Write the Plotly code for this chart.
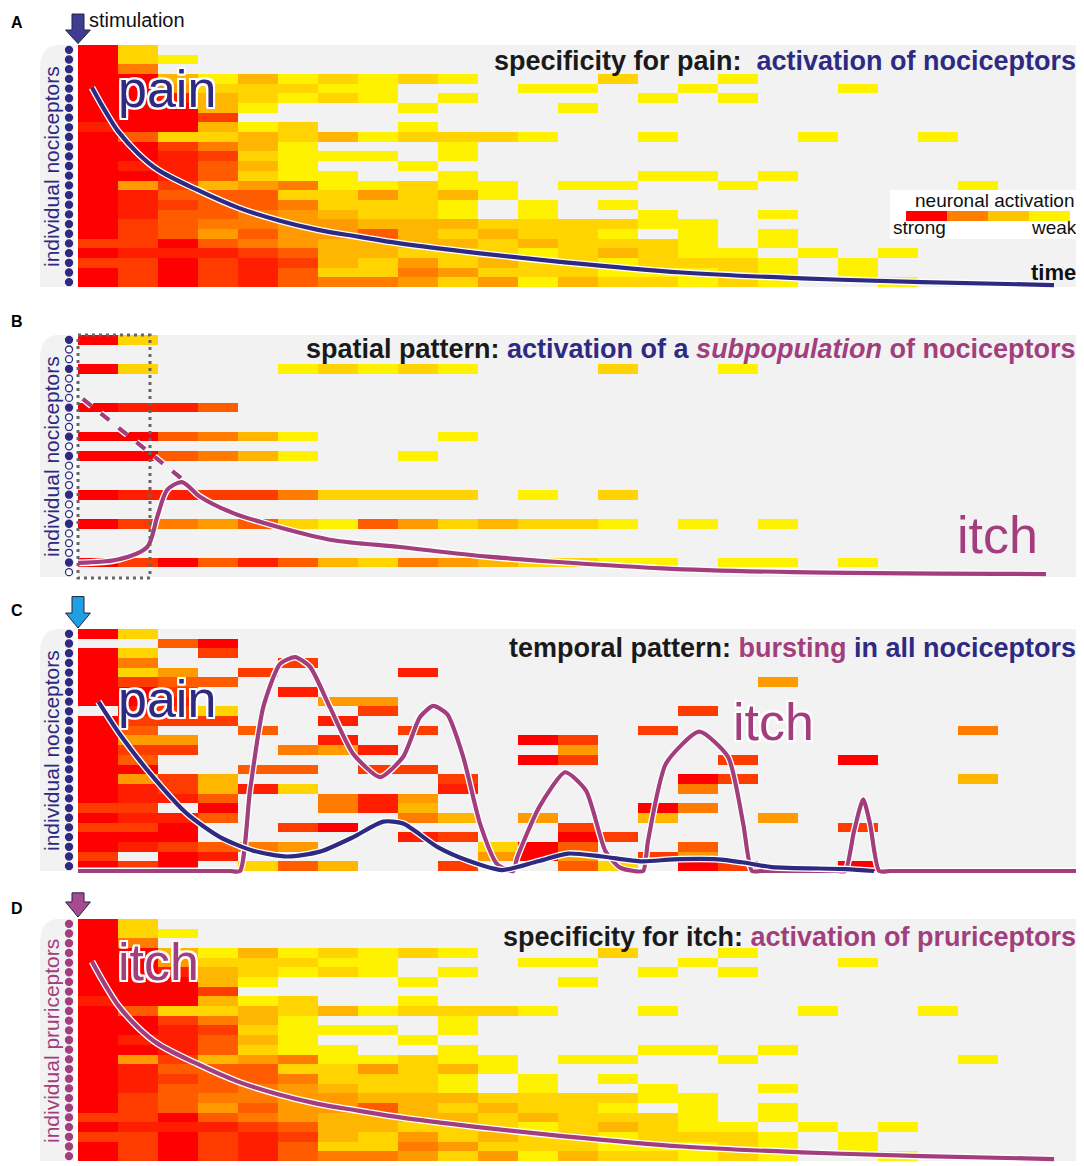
import plotly.graph_objects as go

# the page adds an 8 px body margin, so the figure is drawn 8 px in from the corner
OFF = 8
W, H = 1084 - OFF, 1166 - OFF
ROW_PX = 9.68
N = 25

# activation level per cell: 0 = silent, 1 = weak (yellow) ... 9 = strong (red)
level_colors = ["#FFF200", "#FFD400", "#FFB600", "#FF9A00", "#FF7C00",
                "#FF5C00", "#FF3C00", "#FF1E00", "#FF0000"]

# panels A and D: specific activation (same raster)
specific = [
    [9,2,0,0,0,0,0,0,0,0,0,0,0,0,0,0,0,0,0,0,0,0,0,0,0],
    [9,2,1,0,0,0,0,0,0,0,0,0,0,0,0,0,0,0,0,0,0,0,0,0,0],
    [9,5,0,0,0,0,0,0,0,0,0,0,0,0,0,0,0,0,0,0,0,0,0,0,0],
    [9,9,3,1,3,1,2,1,2,1,0,0,0,2,0,0,1,0,0,0,0,0,0,0,0],
    [9,9,4,2,2,2,1,1,0,0,0,1,1,0,0,1,0,0,0,1,0,0,0,0,0],
    [9,9,8,3,2,1,2,1,0,1,0,0,0,0,1,0,1,0,0,0,0,0,0,0,0],
    [9,9,9,3,1,0,0,0,1,0,0,0,1,0,0,0,0,0,0,0,0,0,0,0,0],
    [9,9,9,7,0,0,0,0,0,0,0,0,0,0,0,0,0,0,0,0,0,0,0,0,0],
    [8,9,9,3,1,2,0,0,1,0,0,0,0,0,0,0,0,0,0,0,0,0,0,0,0],
    [9,6,2,2,3,2,3,1,2,2,2,1,0,0,1,0,0,0,1,0,0,1,0,0,0],
    [9,9,7,5,3,1,0,0,0,1,0,0,0,0,0,0,0,0,0,0,0,0,0,0,0],
    [9,9,8,7,2,1,1,1,0,1,0,0,0,0,0,0,0,0,0,0,0,0,0,0,0],
    [9,8,8,6,3,1,0,0,1,0,0,0,0,0,0,0,0,0,0,0,0,0,0,0,0],
    [9,9,8,6,2,1,1,0,0,1,0,0,0,0,1,1,0,1,0,0,0,0,0,0,0],
    [9,4,7,3,4,5,1,1,2,1,1,0,1,1,0,0,1,0,0,0,0,0,1,0,0],
    [9,8,6,6,6,2,2,4,2,3,1,0,0,0,0,0,0,0,0,0,0,0,0,0,0],
    [9,8,7,6,6,5,2,2,2,1,0,1,0,1,0,0,0,0,0,0,0,0,0,0,0],
    [9,8,6,6,5,4,3,2,2,1,0,1,0,0,1,0,0,1,0,0,0,0,0,0,0],
    [9,7,6,5,5,4,4,3,3,3,2,2,2,2,1,1,0,0,0,0,0,0,0,0,0],
    [9,7,6,4,6,4,4,6,3,2,3,2,2,1,0,1,0,1,0,0,0,0,0,0,0],
    [7,7,9,6,5,4,3,3,3,3,2,3,2,2,2,1,0,1,0,0,0,0,0,0,0],
    [9,8,8,8,7,6,3,3,2,2,2,1,2,3,2,1,1,0,1,0,1,0,0,0,0],
    [7,7,9,7,8,7,3,2,4,2,3,2,2,1,2,2,2,1,0,1,0,0,0,0,0],
    [9,7,9,7,8,6,2,2,5,4,2,2,2,1,1,1,2,1,0,1,0,0,0,0,0],
    [9,7,9,7,8,6,5,5,4,2,4,1,3,2,2,1,2,1,0,0,1,0,0,0,0],
]

# panel B: only a subpopulation of neurons responds
subpop_rows = [0, 3, 7, 10, 12, 16, 19, 23]
subpop_values = [
    [9,2,0,0,0,0,0,0,0,0,0,0,0,0,0,0,0,0,0,0,0,0,0,0,0],
    [9,2,0,0,0,1,2,1,2,1,0,0,0,2,0,0,1,0,0,0,0,0,0,0,0],
    [9,8,8,6,0,0,0,0,0,0,0,0,0,0,0,0,0,0,0,0,0,0,0,0,0],
    [9,9,6,5,3,1,0,0,0,1,0,0,0,0,0,0,0,0,0,0,0,0,0,0,0],
    [9,9,6,5,3,1,0,0,1,0,0,0,0,0,0,0,0,0,0,0,0,0,0,0,0],
    [9,8,8,7,7,5,2,2,2,2,0,1,0,2,0,0,0,0,0,0,0,0,0,0,0],
    [9,7,5,4,6,2,1,6,4,2,3,2,2,1,0,1,0,1,0,0,0,0,0,0,0],
    [9,7,9,6,8,6,3,2,5,4,3,2,2,1,1,0,1,1,0,1,0,0,0,0,0],
]

# panel C: bursting pattern in all neurons
bursting = [
    [9,2,0,0,0,0,0,0,0,0,0,0,0,0,0,0,0,0,0,0,0,0,0,0,0],
    [0,0,6,9,0,0,0,0,0,0,0,0,0,0,0,0,0,0,0,0,0,0,0,0,0],
    [9,2,0,7,0,0,0,0,0,0,0,0,0,0,0,0,0,0,0,0,0,0,0,0,0],
    [9,5,0,0,0,7,0,0,0,0,0,0,0,0,0,0,0,0,0,0,0,0,0,0,0],
    [9,2,4,0,7,0,0,0,8,0,0,0,0,0,0,0,0,0,0,0,0,0,0,0,0],
    [9,7,6,6,0,0,0,0,0,0,0,0,0,0,0,0,0,4,0,0,0,0,0,0,0],
    [9,9,7,0,0,8,0,0,0,0,0,0,0,0,0,0,0,0,0,0,0,0,0,0,0],
    [9,9,8,0,0,0,4,4,0,0,0,0,0,0,0,0,0,0,0,0,0,0,0,0,0],
    [0,8,7,2,0,0,0,7,0,0,0,0,0,0,0,7,0,0,0,0,0,0,0,0,0],
    [9,7,7,7,0,0,8,0,0,0,0,0,0,0,0,0,0,0,0,0,0,0,0,0,0],
    [9,6,0,0,6,0,0,0,7,0,0,0,0,0,7,0,0,0,0,0,0,0,5,0,0],
    [9,4,4,0,0,0,8,0,0,0,0,9,7,0,0,0,0,0,0,0,0,0,0,0,0],
    [9,7,7,0,0,5,4,8,0,0,0,0,4,0,0,0,0,0,0,0,0,0,0,0,0],
    [9,6,0,0,0,0,0,0,0,0,0,9,7,0,0,0,7,0,0,9,0,0,0,0,0],
    [9,9,0,0,6,6,0,7,7,0,0,0,0,0,0,0,0,0,0,0,0,0,0,0,0],
    [9,4,7,3,0,0,0,0,0,7,0,0,0,0,0,9,7,0,0,0,0,0,3,0,0],
    [9,8,7,3,8,2,0,0,0,8,0,0,0,0,0,5,0,0,0,0,0,0,0,0,0],
    [9,8,8,6,0,0,5,8,4,0,0,0,0,0,0,0,0,0,0,0,0,0,0,0,0],
    [7,7,0,9,0,0,5,8,3,0,0,0,0,0,9,5,0,0,0,0,0,0,0,0,0],
    [9,8,8,6,0,0,0,0,5,3,0,4,0,0,3,0,0,4,0,0,0,0,0,0,0],
    [7,7,9,0,0,7,9,0,0,0,0,0,7,0,0,0,0,0,0,7,0,0,0,0,0],
    [9,9,9,0,0,0,0,0,8,7,0,0,9,7,0,0,0,0,0,0,0,0,0,0,0],
    [9,8,7,6,5,4,0,0,0,0,2,9,6,0,0,6,0,0,0,0,0,0,0,0,0],
    [7,0,9,8,0,0,0,0,0,0,4,9,4,0,7,4,0,0,0,0,0,0,0,0,0],
    [9,7,9,0,2,6,3,0,0,7,0,0,6,2,0,9,7,0,0,9,0,0,0,0,0],
]

# summed activity curves (x in time bins, y in neuron rows counted from the top)
decay_x = [0.35, 0.55, 0.75, 1.0, 1.5, 2.0, 3.0, 4.0, 5.0, 6.0, 7.0, 8.05, 10.0, 12.05, 15.1,
           18.1, 21.1, 24.4]
decay_y = [4.4, 5.9, 7.3, 8.9, 11.2, 12.9, 15.0, 16.8, 18.1, 19.1, 19.8, 20.5, 21.5, 22.4, 23.5,
           24.1, 24.5, 24.8]

subpop_x = [0.0, 1.0, 1.73, 1.98, 2.23, 2.6, 3.05, 3.88, 4.98, 6.38, 8.05, 10.25, 14.6, 17.9, 24.2]
subpop_y = [23.55, 23.2, 21.9, 18.8, 16.0, 15.2, 16.7, 18.4, 19.8, 21.2, 21.9, 22.9, 24.1, 24.5, 24.7]
missing_x = [0.12, 2.7]
missing_y = [6.6, 15.2]

burst_pain_x = [0.51, 1.05, 1.88, 2.73, 3.55, 4.38, 5.23, 6.05, 6.88, 7.63, 8.13, 8.98, 9.8,
                10.6, 11.5, 12.25, 13.1, 14.1, 14.9, 16.0, 16.6, 17.35, 19.2, 19.9]
burst_pain_y = [7.5, 10.9, 15.3, 19.1, 21.5, 22.9, 23.5, 23.0, 21.5, 19.9, 20.1, 22.5, 24.0,
                24.9, 24.0, 23.2, 23.5, 24.0, 23.8, 23.8, 24.1, 24.6, 24.8, 25.0]
burst_itch_x = [0.0, 3.8, 4.05, 4.3, 4.63, 5.05, 5.43, 5.8, 6.3, 6.88, 7.55, 8.13, 8.55, 8.88,
                9.23, 9.63, 10.05, 10.48, 10.88, 10.98, 11.53, 12.18, 12.7, 13.18, 13.53, 13.9,
                14.13, 14.25, 14.7, 15.53, 16.25, 16.63, 16.85, 17.1, 18.95, 19.18, 19.4, 19.63,
                19.8, 20.03, 20.3, 24.98]
burst_itch_y = [25.0, 25.0, 25.0, 16.7, 8.1, 3.6, 2.9, 3.9, 8.1, 12.9, 15.3, 13.2, 9.1, 7.95,
                8.8, 13.2, 20.1, 24.3, 25.0, 23.6, 18.4, 14.8, 16.7, 22.9, 24.6, 25.0,
                25.0, 21.9, 13.9, 10.6, 13.2, 20.1, 25.0, 25.0, 25.0, 25.0, 20.9, 17.6,
                20.1, 25.0, 25.0, 25.0]

legend_colors = ["#FF0000", "#FF8000", "#FFC400", "#FFF200"]

NAVY = "#2E2A82"
MAGENTA = "#A33E7E"
NARROW = "Liberation Sans Narrow, Arial Narrow, Liberation Sans, Arial"
SANS = "Liberation Sans, Arial, sans-serif"

panel_top = {"A": 45, "B": 335, "C": 629, "D": 919}
panel_letter_y = {"A": 22, "B": 322, "C": 610, "D": 908}


def fx(x):
    return (x - OFF) / W


def fy(y):
    return 1 - (y - OFF) / H


def to_z(rows):
    return [[v if v > 0 else None for v in r] for r in rows]


subpop = [[0] * N for _ in range(N)]
for r, vals in zip(subpop_rows, subpop_values):
    subpop[r] = vals

colorscale = [[i / 8, c] for i, c in enumerate(level_colors)]
centers = [i + 0.5 for i in range(N)]

fig = go.Figure()
shapes = []
annotations = []


def note(x, y, text, size, color="#111111", family=SANS, xanchor="center", **kw):
    annotations.append(dict(x=fx(x), y=fy(y), xref="paper", yref="paper", text=text,
                            showarrow=False, xanchor=xanchor, yanchor="middle",
                            font=dict(family=family, size=size, color=color), **kw))


panels = [
    ("A", specific, NAVY, "#3F3C92"),
    ("B", subpop, NAVY, None),
    ("C", bursting, NAVY, "#1EA0E2"),
    ("D", specific, MAGENTA, "#A64B8F"),
]

for i, (name, raster, dot_color, arrow_color) in enumerate(panels, start=1):
    T = panel_top[name]
    sfx = "" if i == 1 else str(i)
    xa, ya = "x" + sfx, "y" + sfx
    top_px = max(T - 45, OFF)
    bot_px = min(T + 247, OFF + H)
    fig.update_layout(**{
        "xaxis" + sfx: dict(domain=[fx(40), fx(1078)], range=[-0.95, 25], visible=False,
                            anchor=ya, fixedrange=True),
        "yaxis" + sfx: dict(domain=[fy(bot_px), fy(top_px)],
                            range=[(bot_px - T) / ROW_PX, (top_px - T) / ROW_PX],
                            visible=False, anchor=xa, fixedrange=True),
    })
    # grey panel background with the clipped corner
    shapes.append(dict(type="path", xref=xa, yref=ya, layer="below",
                       path="M -0.95,25 L -0.95,2.3 Q -0.93,0.2 -0.55,0 L 25,0 L 25,25 Z",
                       fillcolor="#F2F2F2", line=dict(width=0)))
    shapes.append(dict(type="rect", xref=xa, yref=ya, layer="below",
                       x0=-0.1, x1=0, y0=0, y1=25, fillcolor="white", line=dict(width=0)))

    fig.add_trace(go.Heatmap(z=to_z(raster), x=centers, y=centers, colorscale=colorscale,
                             zmin=1, zmax=9, showscale=False, hoverinfo="skip",
                             xaxis=xa, yaxis=ya))

    if name == "B":
        fills = [NAVY if r in subpop_rows else "white" for r in range(N)]
    else:
        fills = [dot_color] * N
    fig.add_trace(go.Scatter(x=[-0.225] * N, y=centers, mode="markers", hoverinfo="skip",
                             marker=dict(size=7, color=fills,
                                         line=dict(color=dot_color, width=1.3)),
                             xaxis=xa, yaxis=ya, showlegend=False))

    if arrow_color:
        top, base, tip = {"A": (-3.2, -1.55, -0.15), "C": (-3.35, -1.65, -0.1),
                          "D": (-2.7, -1.76, -0.2)}[name]
        path = (f"M -0.15,{top} L 0.15,{top} L 0.15,{base} L 0.31,{base} L 0,{tip} "
                f"L -0.31,{base} L -0.15,{base} Z")
        shapes.append(dict(type="path", xref=xa, yref=ya, layer="above", path=path,
                           fillcolor=arrow_color, line=dict(color="#222244", width=1)))

    label = "individual pruriceptors" if name == "D" else "individual nociceptors"
    note(51, T + 122, label, 21, color=dot_color, textangle=-90)
    note(17, panel_letter_y[name], f"<b>{name}</b>", 16, color="black")


def add_line(x, y, color, xa, ya, dash=None, width=4.2, smoothing=0.8):
    for c, w in (("white", width + 2.6), (color, width)):
        fig.add_trace(go.Scatter(x=x, y=y, mode="lines", hoverinfo="skip", showlegend=False,
                                 line=dict(color=c, width=w, shape="spline",
                                           smoothing=smoothing, dash=dash),
                                 xaxis=xa, yaxis=ya))


add_line(decay_x, decay_y, NAVY, "x", "y", smoothing=1.0)
add_line(missing_x, missing_y, MAGENTA, "x2", "y2", dash="11px,12px")
add_line(subpop_x, subpop_y, MAGENTA, "x2", "y2")
add_line(burst_itch_x, burst_itch_y, MAGENTA, "x3", "y3", smoothing=0.6)
add_line(burst_pain_x, burst_pain_y, NAVY, "x3", "y3", smoothing=0.7)
add_line(decay_x, decay_y, MAGENTA, "x4", "y4", smoothing=1.0)

# dotted window in panel B
shapes.append(dict(type="rect", xref="x2", yref="y2", x0=0, x1=1.8, y0=0, y1=25.1,
                   line=dict(color="#666666", width=3, dash="3px,4px")))

# legend box in panel A
shapes.append(dict(type="rect", xref="paper", yref="paper", x0=fx(890), x1=fx(1081),
                   y0=fy(239), y1=fy(190), fillcolor="white", line=dict(width=0)))
for k, c in enumerate(legend_colors):
    shapes.append(dict(type="rect", xref="paper", yref="paper",
                       x0=fx(906 + 41 * k), x1=fx(947 + 41 * k), y0=fy(221), y1=fy(211),
                       fillcolor=c, line=dict(width=0)))
note(1077, 201, "neuronal activation", 19, xanchor="right")
note(891, 228, "strong", 19, xanchor="left")
note(1079, 228, "weak", 19, xanchor="right")
note(87, 20, "stimulation", 20, xanchor="left")
note(1078, 272, "<b>time</b>", 22, family=NARROW, xanchor="right")

titles = [
    (61, "specificity for pain:&nbsp; <span style='color:%s'>activation of nociceptors</span>" % NAVY),
    (349, "spatial pattern: <span style='color:%s'>activation of a</span> "
          "<span style='color:%s'><i>subpopulation</i> of nociceptors</span>" % (NAVY, MAGENTA)),
    (648, "temporal pattern: <span style='color:%s'>bursting</span> "
          "<span style='color:%s'>in all nociceptors</span>" % (MAGENTA, NAVY)),
    (937, "specificity for itch: <span style='color:%s'>activation of pruriceptors</span>" % MAGENTA),
]
for yc, txt in titles:
    note(1078, yc, "<b>%s</b>" % txt, 27, color="#1A1A1A", family=NARROW, xanchor="right")

halo = ", ".join("%dpx %dpx 0 #fff" % (dx, dy) for dx in (-2, 0, 2) for dy in (-2, 0, 2)
                 if dx or dy)
words = [
    ("pain", 116, 89, NAVY, True),
    ("pain", 116, 699, NAVY, True),
    ("itch", 731, 722, MAGENTA, True),
    ("itch", 955, 535, MAGENTA, False),
    ("itch", 116, 962, MAGENTA, True),
]
for txt, x, y, col, outlined in words:
    note(x, y, txt, 52, color=col, xanchor="left")
    annotations[-1]["font"]["shadow"] = halo if outlined else "none"

fig.update_layout(width=W, height=H, margin=dict(l=0, r=0, t=0, b=0),
                  paper_bgcolor="white", plot_bgcolor="rgba(0,0,0,0)",
                  showlegend=False, shapes=shapes, annotations=annotations)

fig.write_html("out.html")
